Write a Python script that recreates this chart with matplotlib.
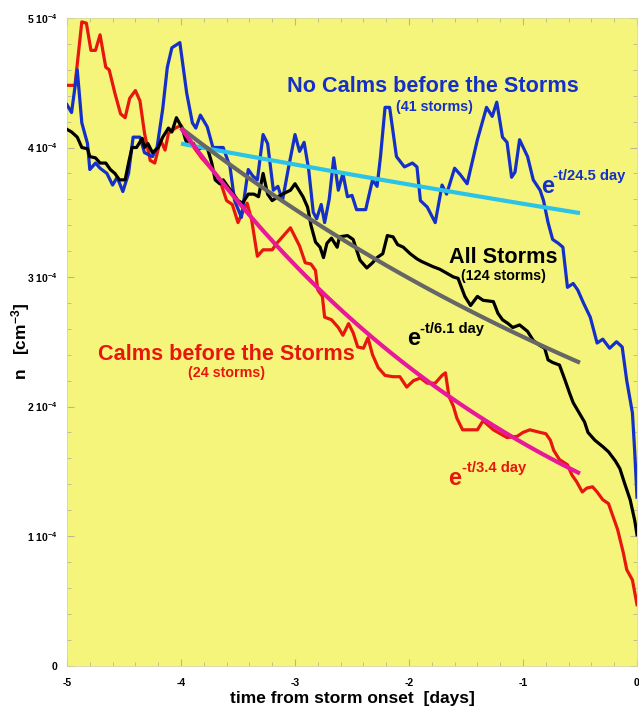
import numpy as np
import matplotlib
matplotlib.use("Agg")
import matplotlib.pyplot as plt
from matplotlib.ticker import MultipleLocator, FixedLocator, FuncFormatter

plt.rcParams['font.family'] = ['Liberation Sans', 'DejaVu Sans']
plt.rcParams['font.weight'] = 'bold'
plt.rcParams['mathtext.fontset'] = 'custom'
plt.rcParams['mathtext.rm'] = 'Liberation Sans:bold'
plt.rcParams['mathtext.it'] = 'Liberation Sans:bold'
plt.rcParams['mathtext.bf'] = 'Liberation Sans:bold'

# ---- data (density in units of 1e-4 cm^-3, time in days) ----
red_t = [-5.00, -4.93, -4.87, -4.83, -4.79, -4.75, -4.71, -4.66, -4.63, -4.58, -4.53, -4.49, -4.45,
         -4.40, -4.36, -4.32, -4.27, -4.23, -4.18, -4.14, -4.11, -4.05, -4.00, -3.96, -3.92, -3.87,
         -3.82, -3.76, -3.70, -3.66, -3.60, -3.55, -3.50, -3.46, -3.42, -3.38, -3.33, -3.28, -3.20,
         -3.16, -3.11, -3.04, -3.00, -2.96, -2.91, -2.86, -2.82, -2.80, -2.76, -2.74, -2.68, -2.62,
         -2.58, -2.53, -2.49, -2.45, -2.40, -2.36, -2.32, -2.27, -2.21, -2.14, -2.08, -2.02, -1.96,
         -1.90, -1.84, -1.77, -1.71, -1.68, -1.65, -1.61, -1.58, -1.53, -1.40, -1.35, -1.26, -1.14,
         -1.05, -1.00, -0.94, -0.85, -0.80, -0.76, -0.73, -0.68, -0.61, -0.57, -0.53, -0.48, -0.44,
         -0.39, -0.35, -0.30, -0.25, -0.21, -0.17, -0.12, -0.09, -0.04, 0.00]
red_n = [4.48, 4.48, 4.97, 4.96, 4.75, 4.75, 4.87, 4.62, 4.60, 4.42, 4.26, 4.23, 4.38,
         4.44, 4.36, 4.11, 3.90, 3.88, 4.06, 3.98, 4.11, 4.15, 4.17, 4.11, 4.04, 3.98,
         3.92, 3.86, 3.80, 3.75, 3.59, 3.56, 3.42, 3.50, 3.57, 3.44, 3.16, 3.21, 3.21,
         3.26, 3.31, 3.38, 3.31, 3.24, 3.11, 3.10, 3.05, 2.90, 2.85, 2.69, 2.67, 2.61,
         2.55, 2.64, 2.57, 2.46, 2.45, 2.53, 2.40, 2.30, 2.24, 2.23, 2.23, 2.15, 2.20,
         2.22, 2.18, 2.18, 2.24, 2.26, 2.08, 2.00, 1.91, 1.82, 1.82, 1.89, 1.82, 1.76,
         1.77, 1.80, 1.82, 1.80, 1.79, 1.74, 1.66, 1.59, 1.55, 1.47, 1.42, 1.34, 1.37,
         1.38, 1.34, 1.28, 1.25, 1.15, 1.05, 0.87, 0.74, 0.66, 0.47]

blue_t = [-5.00, -4.96, -4.91, -4.87, -4.82, -4.80, -4.75, -4.71, -4.65, -4.60, -4.56, -4.51, -4.46,
          -4.42, -4.36, -4.32, -4.25, -4.21, -4.16, -4.12, -4.08, -4.01, -3.95, -3.90, -3.87, -3.83,
          -3.77, -3.72, -3.63, -3.57, -3.53, -3.47, -3.41, -3.37, -3.33, -3.28, -3.24, -3.19, -3.15,
          -3.11, -3.06, -3.00, -2.96, -2.92, -2.88, -2.84, -2.81, -2.77, -2.74, -2.70, -2.66, -2.62,
          -2.58, -2.54, -2.50, -2.46, -2.38, -2.32, -2.28, -2.25, -2.21, -2.17, -2.11, -2.04, -1.97,
          -1.93, -1.90, -1.84, -1.77, -1.71, -1.67, -1.60, -1.55, -1.49, -1.40, -1.32, -1.27, -1.23,
          -1.18, -1.14, -1.10, -1.07, -1.03, -0.96, -0.91, -0.85, -0.82, -0.78, -0.74, -0.69, -0.65,
          -0.61, -0.56, -0.52, -0.47, -0.41, -0.35, -0.30, -0.24, -0.18, -0.13, -0.09, -0.04, -0.02,
          0.00]
blue_n = [4.33, 4.27, 4.60, 4.19, 4.03, 3.83, 3.88, 3.84, 3.80, 3.71, 3.77, 3.66, 3.80,
          4.08, 4.08, 3.96, 3.93, 4.00, 4.30, 4.62, 4.77, 4.81, 4.42, 4.19, 4.15, 4.25,
          4.16, 4.00, 4.00, 3.85, 3.59, 3.46, 3.83, 3.78, 3.75, 4.10, 4.03, 3.67, 3.70,
          3.59, 3.83, 4.10, 3.97, 4.04, 3.83, 3.50, 3.45, 3.56, 3.42, 3.60, 3.92, 3.67,
          3.80, 3.62, 3.63, 3.52, 3.52, 3.75, 3.70, 3.93, 4.31, 4.31, 3.93, 3.85, 3.88,
          3.85, 3.59, 3.54, 3.42, 3.71, 3.64, 3.84, 3.79, 3.72, 4.06, 4.31, 4.24, 4.35,
          4.08, 4.04, 3.77, 3.81, 4.06, 3.93, 3.75, 3.67, 3.59, 3.42, 3.29, 3.26, 3.23,
          2.92, 2.95, 2.90, 2.80, 2.69, 2.49, 2.52, 2.45, 2.50, 2.46, 2.20, 1.95, 1.65,
          1.30]

black_t = [-5.00, -4.96, -4.91, -4.87, -4.82, -4.80, -4.75, -4.71, -4.66, -4.62, -4.58, -4.54, -4.49,
           -4.46, -4.43, -4.39, -4.34, -4.32, -4.29, -4.25, -4.20, -4.16, -4.11, -4.08, -4.04, -3.99,
           -3.96, -3.94, -3.89, -3.86, -3.82, -3.77, -3.73, -3.70, -3.66, -3.63, -3.59, -3.54, -3.50,
           -3.46, -3.41, -3.36, -3.32, -3.28, -3.24, -3.20, -3.15, -3.11, -3.04, -3.00, -2.93, -2.89,
           -2.86, -2.82, -2.78, -2.75, -2.72, -2.68, -2.63, -2.61, -2.54, -2.49, -2.43, -2.37, -2.32,
           -2.28, -2.23, -2.19, -2.14, -2.10, -2.05, -1.99, -1.93, -1.89, -1.84, -1.79, -1.73, -1.67,
           -1.61, -1.57, -1.54, -1.51, -1.46, -1.40, -1.35, -1.26, -1.22, -1.18, -1.13, -1.09, -1.03,
           -0.96, -0.91, -0.85, -0.81, -0.78, -0.74, -0.68, -0.63, -0.59, -0.56, -0.52, -0.46, -0.43,
           -0.37, -0.30, -0.25, -0.19, -0.15, -0.11, -0.06, -0.02, 0.00]
black_n = [4.14, 4.12, 4.08, 4.00, 3.99, 3.93, 3.92, 3.88, 3.88, 3.83, 3.80, 3.75, 3.75,
           3.88, 4.00, 4.00, 4.07, 4.00, 4.03, 3.96, 4.00, 4.08, 4.15, 4.12, 4.23, 4.15,
           4.06, 4.02, 4.03, 3.98, 4.00, 4.00, 3.88, 3.75, 3.72, 3.75, 3.70, 3.64, 3.59,
           3.57, 3.64, 3.64, 3.62, 3.80, 3.64, 3.59, 3.62, 3.64, 3.67, 3.72, 3.62, 3.54,
           3.40, 3.27, 3.23, 3.15, 3.26, 3.30, 3.23, 3.31, 3.32, 3.29, 3.13, 3.07, 3.11,
           3.15, 3.18, 3.32, 3.31, 3.25, 3.23, 3.18, 3.14, 3.12, 3.10, 3.08, 3.06, 3.03,
           3.00, 2.99, 2.92, 2.85, 2.78, 2.85, 2.82, 2.81, 2.72, 2.67, 2.64, 2.61, 2.63,
           2.58, 2.51, 2.47, 2.45, 2.36, 2.34, 2.32, 2.20, 2.10, 2.03, 1.97, 1.88, 1.80,
           1.74, 1.69, 1.65, 1.58, 1.52, 1.41, 1.28, 1.12, 1.01]

# exponential fits: n = A * exp(-(t - t0)/tau), drawn from t0 to t1
fit_t0, fit_t1 = -4.0, -0.5
fit_A = {'cyan': 4.03, 'gray': 4.15, 'magenta': 4.15}
fit_tau = {'cyan': 24.5, 'gray': 6.1, 'magenta': 3.4}

yticks = [0, 1, 2, 3, 4, 5]
xticks = [-5, -4, -3, -2, -1, 0]

BG = '#F5F57C'
RED = '#E8170E'
BLUE = '#1430C8'
CYAN = '#2CC3E8'
GRAY = '#666666'
MAG = '#E8189A'

fig = plt.figure(figsize=(6.39, 7.06), dpi=100)
ax = fig.add_axes([67/639, 40.5/706, 570/639, 647.5/706])
ax.set_facecolor(BG)

lw = 2.3
ax.plot(red_t, red_n, color=RED, lw=lw, zorder=3)
ax.plot(blue_t, blue_n, color=BLUE, lw=lw, zorder=3)
ax.plot(black_t, black_n, color='black', lw=lw, zorder=4)

tt = np.linspace(fit_t0, fit_t1, 100)
for key, col in [('cyan', CYAN), ('gray', GRAY), ('magenta', MAG)]:
    ax.plot(tt, fit_A[key] * np.exp(-(tt - fit_t0) / fit_tau[key]), color=col, lw=3.0,
            zorder=5, solid_capstyle='butt')

ax.set_xlim(-5, 0)
ax.set_ylim(0, 5)
ax.xaxis.set_major_locator(FixedLocator(xticks))
ax.yaxis.set_major_locator(FixedLocator(yticks))
ax.xaxis.set_minor_locator(MultipleLocator(0.2))
ax.yaxis.set_minor_locator(MultipleLocator(0.2))
ax.xaxis.set_major_formatter(FuncFormatter(lambda v, p: f"{int(round(v))}"))
ax.yaxis.set_major_formatter(FuncFormatter(
    lambda v, p: "0" if abs(v) < 1e-9 else f"{int(round(v))} 10$^{{-4}}$"))
ax.tick_params(which='both', direction='in', colors='#b8b890', labelcolor='black',
               top=True, right=True)
ax.tick_params(which='major', length=5, width=0.8, labelsize=7.5)
ax.tick_params(axis='x', which='major', pad=9)
ax.tick_params(axis='y', which='major', pad=7)
ax.tick_params(which='minor', length=3, width=0.6)
for lab in ax.get_xticklabels() + ax.get_yticklabels():
    lab.set_fontweight('bold')
for s in ax.spines.values():
    s.set_color('#d6d6a0')
    s.set_linewidth(0.6)

ax.set_xlabel("time from storm onset  [days]", fontsize=12.5, fontweight='bold', labelpad=2)
ax.set_ylabel("n   [cm$^{-3}$]", fontsize=12.5, fontweight='bold', labelpad=-4)

# annotations
ax.text(-1.79, 4.47, "No Calms before the Storms", color=BLUE, fontsize=15.6,
        fontweight='bold', ha='center', va='center')
ax.text(-1.78, 4.31, "(41 storms)", color=BLUE, fontsize=10.3, fontweight='bold',
        ha='center', va='center')
ax.text(-1.175, 3.15, "All Storms", color='black', fontsize=15.6, fontweight='bold',
        ha='center', va='center')
ax.text(-1.17, 3.01, "(124 storms)", color='black', fontsize=10.3, fontweight='bold',
        ha='center', va='center')
ax.text(-3.605, 2.40, "Calms before the Storms", color=RED, fontsize=15.6,
        fontweight='bold', ha='center', va='center')
ax.text(-3.605, 2.26, "(24 storms)", color=RED, fontsize=10.3, fontweight='bold',
        ha='center', va='center')

for (xe, ye, xs, ys, lab, col) in [(-0.842, 3.65, -0.737, 3.78, "-t/24.5 day", BLUE),
                                  (-2.018, 2.475, -1.904, 2.60, "-t/6.1 day", 'black'),
                                  (-1.658, 1.394, -1.535, 1.525, "-t/3.4 day", RED)]:
    ax.text(xe, ye, "e", color=col, fontsize=17, fontweight='bold', ha='left', va='baseline')
    ax.text(xs, ys, lab, color=col, fontsize=10.6, fontweight='bold', ha='left', va='center')

fig.savefig("out.png", dpi=100)
